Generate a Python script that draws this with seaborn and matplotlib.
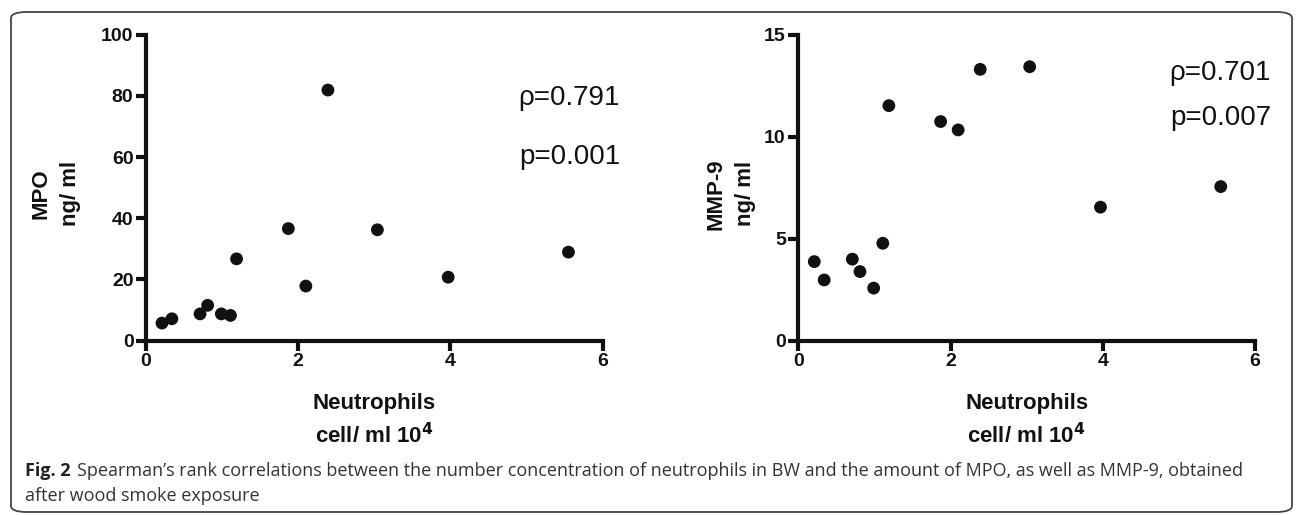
import matplotlib
matplotlib.use('Agg')
import matplotlib.pyplot as plt
import seaborn as sns
import pandas as pd
from matplotlib.patches import FancyBboxPatch

# neutrophils (cell/ml 10^4), same samples in both panels
neutrophils = [0.21, 0.34, 0.71, 0.81, 0.99, 1.11, 1.19, 1.87, 2.10, 2.39, 3.04, 3.97, 5.55]
mpo = [5.7, 7.1, 8.7, 11.5, 8.7, 8.2, 26.7, 36.6, 17.8, 81.9, 36.2, 20.7, 28.9]
mmp9 = [3.87, 2.97, 3.99, 3.38, 2.57, 4.77, 11.52, 10.74, 10.33, 13.3, 13.43, 6.54, 7.55]

ylabels = ['MPO\nng/ ml', 'MMP-9\nng/ ml']
ymax = [100, 15]
yticks = [[0, 20, 40, 60, 80, 100], [0, 5, 10, 15]]
rho_text = ['ρ=0.791', 'ρ=0.701']
p_text = ['p=0.001', 'p=0.007']
caption_bold = 'Fig. 2'
caption_1 = ('Spearman’s rank correlations between the number concentration of neutrophils in BW '
             'and the amount of MPO, as well as MMP-9, obtained')
caption_2 = 'after wood smoke exposure'

sns.set_style('ticks')
plt.rcParams['font.family'] = ['Liberation Sans', 'DejaVu Sans']

W, H = 1296, 515
fig = plt.figure(figsize=(W / 100, H / 100), dpi=100)

# outer rounded frame
frame = FancyBboxPatch((11 / W, 3 / H), 1281 / W, 500 / H,
                       boxstyle='round,pad=0,rounding_size=0.012',
                       transform=fig.transFigure, fill=False,
                       edgecolor='#444444', linewidth=1.3)
fig.patches.append(frame)

axes_pos = [[146 / W, 1 - 340.5 / H, 456.7 / W, 305.8 / H],
            [798.3 / W, 1 - 340.5 / H, 456.7 / W, 305.8 / H]]
ylab_x = [(56 - 146) / 456.7, (731 - 798.3) / 456.7]
text_right = [620, 1271]
rho_y = [98, 73]
p_y = [157, 118]
ink = '#111111'

for i in range(2):
    ax = fig.add_axes(axes_pos[i])
    df = pd.DataFrame({'x': neutrophils, 'y': [mpo, mmp9][i]})
    sns.scatterplot(data=df, x='x', y='y', ax=ax, color=ink, s=85,
                    edgecolor='none', clip_on=False)
    ax.set_xlim(0, 6)
    ax.set_ylim(0, ymax[i])
    ax.set_xticks([0, 2, 4, 6])
    ax.set_yticks(yticks[i])
    sns.despine(ax=ax)
    for sp in ['left', 'bottom']:
        ax.spines[sp].set_linewidth(3)
        ax.spines[sp].set_color(ink)
        ax.spines[sp].set_capstyle('projecting')
    ax.tick_params(width=3, length=7, labelsize=14, color=ink,
                   labelcolor=ink, pad=2)
    for lab in ax.get_xticklabels() + ax.get_yticklabels():
        lab.set_fontweight('bold')
    ax.set_ylabel(ylabels[i], fontsize=16, fontweight='bold', linespacing=1.55,
                  color=ink, va='center')
    ax.yaxis.set_label_coords(ylab_x[i], 0.48)
    ax.set_xlabel('Neutrophils\ncell/ ml 10$^\\mathbf{4}$', fontsize=16,
                  fontweight='bold', linespacing=1.45, color=ink)
    ax.xaxis.set_label_coords(0.5, -(421 - 340.5) / 305.8)
    ax.xaxis.label.set_va('center')
    fig.text(text_right[i] / W, 1 - rho_y[i] / H, rho_text[i], ha='right',
             va='center', fontsize=20, color=ink)
    fig.text(text_right[i] / W, 1 - p_y[i] / H, p_text[i], ha='right',
             va='center', fontsize=20, color=ink)

# caption, sized to span the same width as the reference
cap_font = ['Open Sans', 'Liberation Sans', 'DejaVu Sans']
renderer = fig.canvas.get_renderer()
tb = fig.text(25 / W, 1 - 471 / H, caption_bold, fontsize=12, fontweight='bold',
              family=cap_font, color='#222222', va='center', ha='left')
t1 = fig.text(0, 1 - 471 / H, caption_1, fontsize=12, family=cap_font,
              color='#333333', va='center', ha='left')
wb = tb.get_window_extent(renderer).width
w1 = t1.get_window_extent(renderer).width
space = 6
size = 12 * (1220 - space * 1.1) / (wb + w1)
tb.set_fontsize(size)
t1.set_fontsize(size)
wb = tb.get_window_extent(renderer).width
t1.set_x((25 + wb + space) / W)
fig.text(25 / W, 1 - 496 / H, caption_2, fontsize=size, family=cap_font,
         color='#333333', va='center', ha='left')

fig.savefig('out.png', dpi=100)
